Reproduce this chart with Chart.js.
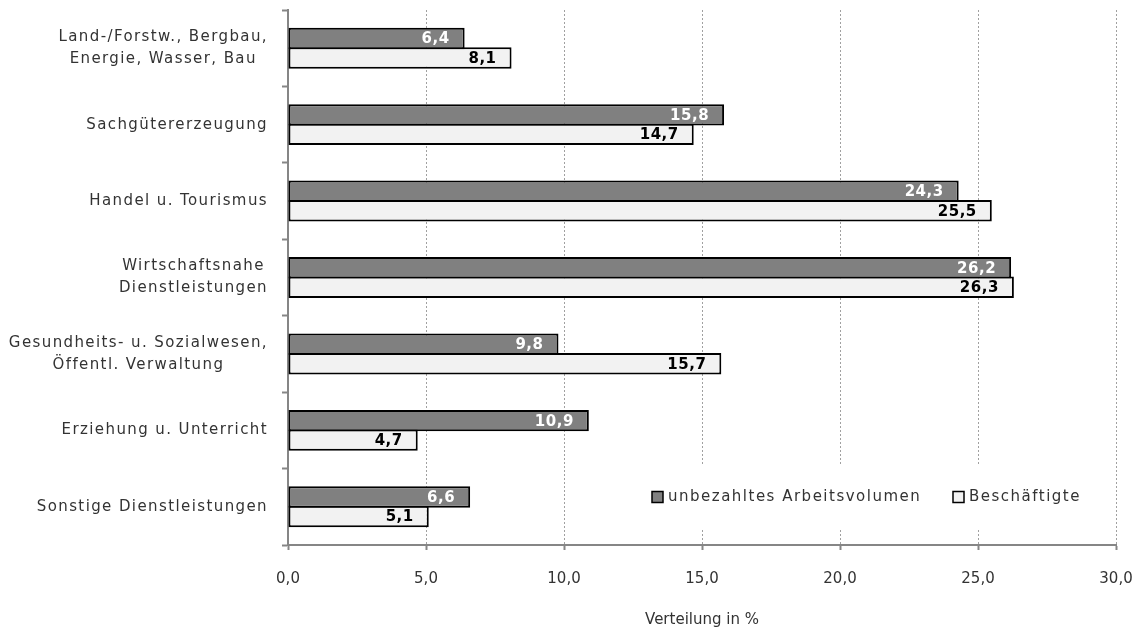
<!DOCTYPE html>
<html>
<head>
<meta charset="utf-8">
<script src="https://cdn.jsdelivr.net/npm/chart.js@4/dist/chart.umd.min.js"></script>
<style>
  body { margin: 0; background: #fff; }
  #wrap { width: 1135px; height: 632px; position: relative; }
</style>
</head>
<body>
<div id="wrap"><canvas id="chart"></canvas></div>
<script>
const categories = [
  ['Land-/Forstw., Bergbau,', 'Energie, Wasser, Bau'],
  ['Sachgütererzeugung'],
  ['Handel u. Tourismus'],
  ['Wirtschaftsnahe', 'Dienstleistungen'],
  ['Gesundheits- u. Sozialwesen,', 'Öffentl. Verwaltung'],
  ['Erziehung u. Unterricht'],
  ['Sonstige Dienstleistungen']
];
const unbezahlt = [6.4, 15.8, 24.3, 26.2, 9.8, 10.9, 6.6];
const beschaeftigte = [8.1, 14.7, 25.5, 26.3, 15.7, 4.7, 5.1];
const seriesNames = ['unbezahltes Arbeitsvolumen', 'Beschäftigte'];
const xTicks = [0, 5, 10, 15, 20, 25, 30];

const FONT = "'DejaVu Sans', sans-serif";
const TEXT = '#333333';
const fmt = v => v.toFixed(1).replace('.', ',');

// y labels: single lines right aligned, multi-line blocks centred on each other
const yLabelPlugin = {
  id: 'yLabels',
  afterDraw(chart) {
    const ctx = chart.ctx;
    const y = chart.scales.y;
    ctx.save();
    ctx.font = '15px ' + FONT;
    ctx.fillStyle = TEXT;
    ctx.letterSpacing = '1.4px';
    ctx.textBaseline = 'middle';
    ctx.textAlign = 'center';
    const right = 268;
    categories.forEach((lines, i) => {
      const cy = y.getPixelForValue(i);
      const w = Math.max(...lines.map(l => ctx.measureText(l).width));
      const cx = right - w / 2;
      const start = cy - (lines.length - 1) * 11;
      lines.forEach((l, j) => ctx.fillText(l, cx, start + j * 22));
    });
    ctx.restore();
  }
};

const valueLabelPlugin = {
  id: 'valueLabels',
  afterDatasetsDraw(chart) {
    const ctx = chart.ctx;
    ctx.save();
    ctx.font = 'bold 15px ' + FONT;
    ctx.letterSpacing = '0.5px';
    ctx.textAlign = 'right';
    ctx.textBaseline = 'middle';
    chart.data.datasets.forEach((ds, di) => {
      ctx.fillStyle = di === 0 ? '#ffffff' : '#000000';
      chart.getDatasetMeta(di).data.forEach((bar, i) => {
        ctx.fillText(fmt(ds.data[i]), bar.x - 15, bar.y + 1);
      });
    });
    ctx.restore();
  }
};

const legendPlugin = {
  id: 'boxLegend',
  afterDraw(chart) {
    const ctx = chart.ctx;
    ctx.save();
    ctx.fillStyle = '#ffffff';
    ctx.fillRect(625, 466, 470, 63);
    ctx.font = '15px ' + FONT;
    ctx.letterSpacing = '1.5px';
    ctx.textBaseline = 'middle';
    ctx.textAlign = 'left';
    const xs = [652, 953];
    chart.data.datasets.forEach((ds, i) => {
      const x = xs[i];
      ctx.fillStyle = ds.backgroundColor;
      ctx.fillRect(x, 491.5, 11, 11);
      ctx.strokeStyle = '#000';
      ctx.lineWidth = 1.5;
      ctx.strokeRect(x, 491.5, 11, 11);
      ctx.fillStyle = TEXT;
      ctx.fillText(ds.label, x + 16, 497);
    });
    ctx.restore();
  }
};

new Chart(document.getElementById('chart'), {
  type: 'bar',
  data: {
    labels: categories.map(c => c.join(' ')),
    datasets: [
      {
        label: seriesNames[0],
        data: unbezahlt,
        backgroundColor: '#808080',
        borderColor: '#000000',
        borderWidth: 2,
        borderSkipped: false,
        categoryPercentage: 0.51,
        barPercentage: 1.1
      },
      {
        label: seriesNames[1],
        data: beschaeftigte,
        backgroundColor: '#f2f2f2',
        borderColor: '#000000',
        borderWidth: 2,
        borderSkipped: false,
        categoryPercentage: 0.51,
        barPercentage: 1.1
      }
    ]
  },
  options: {
    indexAxis: 'y',
    responsive: true,
    maintainAspectRatio: false,
    animation: false,
    layout: { padding: { top: 10, right: 19, left: 0, bottom: 0 } },
    plugins: {
      legend: { display: false },
      tooltip: { enabled: false }
    },
    scales: {
      x: {
        min: 0,
        max: 30,
        afterBuildTicks: s => { s.ticks = xTicks.map(v => ({ value: v })); },
        afterFit: s => { s.height = 87; s.paddingLeft = 0; s.paddingRight = 0; },
        ticks: {
          callback: v => fmt(v),
          font: { family: FONT, size: 15 },
          color: TEXT,
          padding: 20,
          maxRotation: 0
        },
        grid: {
          color: '#a0a0a0',
          lineWidth: 1,
          tickLength: 5,
          tickColor: '#868686',
          tickWidth: 2,
          tickBorderDash: []
        },
        border: { display: true, color: '#868686', width: 2, dash: [2, 2] },
        title: {
          display: true,
          text: 'Verteilung in %',
          font: { family: FONT, size: 15 },
          color: TEXT,
          padding: { top: 0, bottom: 3 }
        }
      },
      y: {
        afterFit: s => { s.width = 288; },
        ticks: { display: false },
        grid: {
          drawOnChartArea: false,
          tickLength: 6,
          tickColor: '#868686',
          tickWidth: 2
        },
        border: { display: true, color: '#868686', width: 2 }
      }
    }
  },
  plugins: [yLabelPlugin, valueLabelPlugin, legendPlugin]
});
</script>
</body>
</html>
